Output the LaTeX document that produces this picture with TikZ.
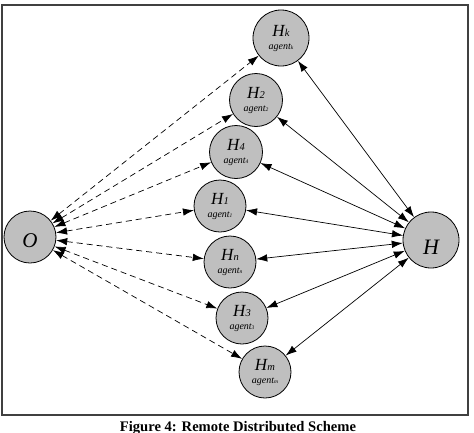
\documentclass[tikz,border=0pt]{standalone}
\usepackage{fontspec}
\setmainfont{Liberation Serif}
\usetikzlibrary{arrows.meta}
\newcommand{\hlab}[1]{{\fontsize{17}{17}\selectfont\itshape H\kern0.3pt{\fontsize{10.5}{10.5}\selectfont #1}}\\[1pt]{\fontsize{10}{10}\selectfont\itshape agent{\fontsize{5.5}{5.5}\selectfont #1}}}
\tikzset{
  agentnode/.style={circle,draw=black,fill=black!25,line width=0.8pt,minimum size=52pt,inner sep=0pt,align=center},
  bignode/.style={circle,draw=black,fill=black!25,line width=0.8pt,minimum size=54pt,inner sep=0pt},
  dashlink/.style={dashed,dash pattern=on 6pt off 4pt,line width=0.7pt,{Latex[length=11pt,width=7.5pt]}-{Latex[length=11pt,width=7.5pt]}},
  solidlink/.style={line width=0.7pt,{Latex[length=11pt,width=7.5pt]}-{Latex[length=11pt,width=7.5pt]}},
  frame/.style={draw=black!75,line width=1.4pt}
}
\begin{document}
\begin{tikzpicture}[x=1pt,y=-1pt]
\useasboundingbox (0,0) rectangle (474,432);
\draw[frame] (2,5) rectangle (468,415);
\node[agentnode,minimum size=56pt] (hk) at (281,38) {\hlab{k}};
\node[agentnode,minimum size=53pt] (h2) at (256,100) {\hlab{2}};
\node[agentnode,minimum size=53pt] (h4) at (236,152) {\hlab{4}};
\node[agentnode] (h1) at (220,206) {\hlab{1}};
\node[agentnode] (hn) at (230,262) {\hlab{n}};
\node[agentnode] (h3) at (242,318) {\hlab{3}};
\node[agentnode] (hm) at (265,372) {\hlab{m}};
\node[bignode,minimum size=52pt,label={[yshift=-4pt,font=\fontsize{21}{21}\selectfont\itshape]center:O}] (o) at (30,237) {};
\node[bignode,minimum size=56pt,label={[yshift=-7pt,font=\fontsize{22}{22}\selectfont\itshape]center:H}] (h) at (431,240) {};
\foreach \n in {hk,h2,h4,h1,hn,h3,hm}{
  \draw[dashlink] (o) -- (\n);
  \draw[solidlink] (\n) -- (h);
}
\node[font=\fontsize{14.6}{14.6}\selectfont\bfseries,anchor=base] (cap) at (238,431) {Figure 4: Remote Distributed Scheme};
\end{tikzpicture}
\end{document}
